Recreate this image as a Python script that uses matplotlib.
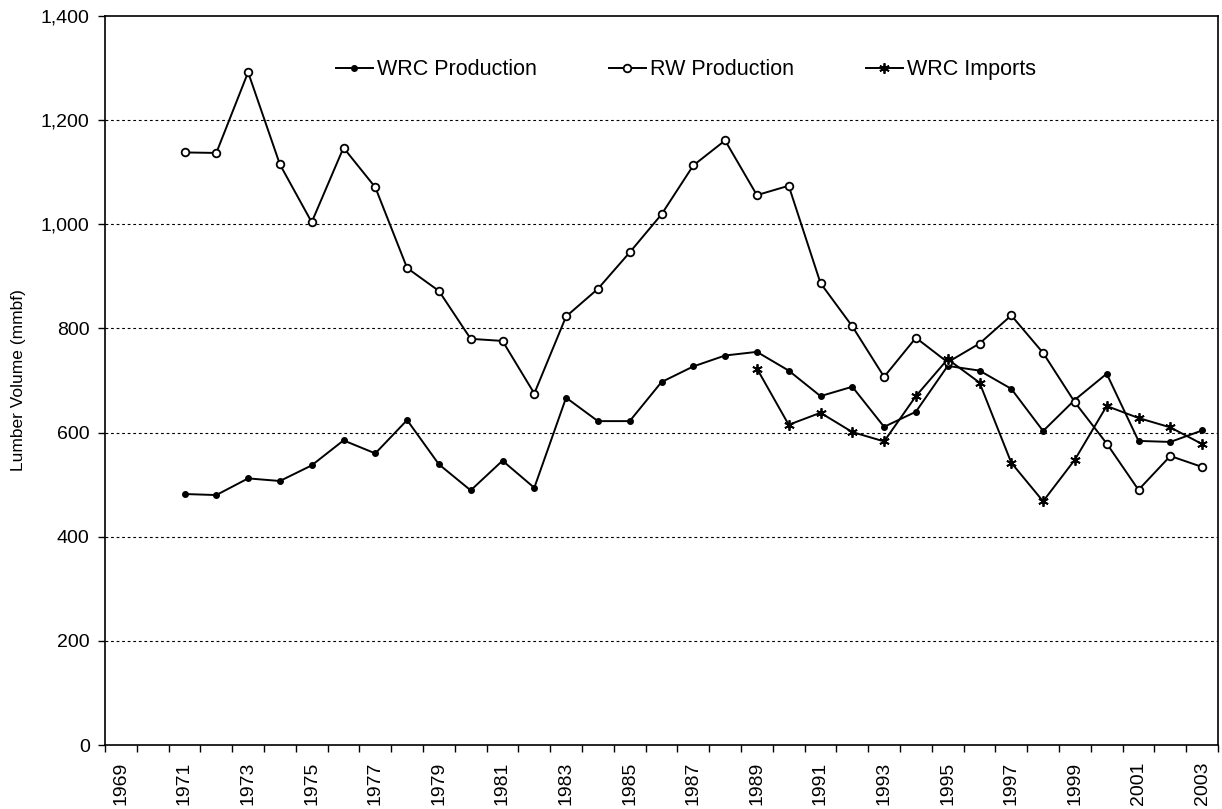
import numpy as np
import matplotlib.pyplot as plt
from matplotlib.ticker import FuncFormatter, FixedLocator

plt.rcParams['font.family'] = ['Liberation Sans', 'DejaVu Sans']

years = list(range(1969, 2004))
nan = np.nan

wrc_production = [nan, nan, 482, 480, 512, 507, 537, 585, 560, 624, 539, 489, 546,
                  494, 667, 622, 622, 697, 727, 748, 755, 719, 670, 688, 611,
                  640, 728, 719, 684, 603, 663, 713, 584, 582, 604]
rw_production = [nan, nan, 1138, 1137, 1292, 1115, 1004, 1147, 1071, 916, 872, 780, 776,
                 675, 823, 876, 946, 1019, 1113, 1161, 1056, 1074, 887, 804, 707,
                 782, 735, 771, 825, 753, 658, 579, 490, 555, 534]
wrc_imports = [nan] * 20 + [723, 615, 638, 601, 583, 670, 741, 696, 542, 468, 548,
                            651, 628, 610, 578]

x = np.arange(len(years)) + 0.5

fig = plt.figure(figsize=(12.22, 8.09), dpi=100)
ax = fig.add_axes([105 / 1222, 1 - 745 / 809, 1113 / 1222, 729 / 809])

ax.plot(x, wrc_production, color='black', lw=1.4, marker='o', ms=4,
        mfc='black', mec='black', label='WRC Production')
ax.plot(x, rw_production, color='black', lw=1.4, marker='o', ms=5.5,
        mfc='white', mec='black', mew=1.3, label='RW Production')
ax.plot(x, wrc_imports, color='black', lw=1.4, marker=(6, 2, 0), ms=7.5,
        mec='black', mew=1.3, label='WRC Imports')

ax.set_xlim(0, len(years))
ax.set_ylim(0, 1400)
ax.set_yticks(range(0, 1401, 200))
ax.yaxis.set_major_formatter(FuncFormatter(lambda v, p: f'{int(v):,}'))
ax.yaxis.grid(True, linestyle=(0, (2.5, 2.5)), color='black', lw=0.8)
for gl in ax.get_ygridlines()[-1:] + ax.get_ygridlines()[:1]:
    gl.set_visible(False)

ax.set_xticks(x[::2])
ax.set_xticklabels([str(y) for y in years[::2]], rotation=90)
ax.xaxis.set_minor_locator(FixedLocator(np.arange(0, len(years) + 1)))
ax.tick_params(axis='x', which='major', length=0, labelsize=14, pad=12)
ax.tick_params(axis='x', which='minor', length=5, width=1, direction='out')
ax.tick_params(axis='y', length=5, width=1, labelsize=14, pad=6)

for s in ax.spines.values():
    s.set_linewidth(1.2)

ax.set_ylabel('Lumber Volume (mmbf)', fontsize=12.5)
ax.yaxis.set_label_coords(-0.071, 0.5)

ax.legend(loc='center', bbox_to_anchor=(0.522, 0.926), ncol=3, frameon=False,
          fontsize=15.5, columnspacing=3.35, handlelength=1.7, handletextpad=0.2)

fig.savefig('out.png', dpi=100)
